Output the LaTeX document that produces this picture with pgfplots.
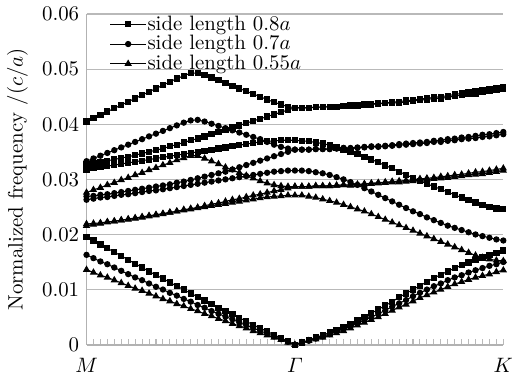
\documentclass[border=0pt]{standalone}
\usepackage{amsmath}
\usepackage{pgfplots}
\usepackage{pgfplotstable}
\pgfplotsset{compat=1.18}
% columns: k-point index (M=0, Gamma=30, K=60), bands A..D
\pgfplotstableread{
i A B C D
0 0.0196 0.0318 0.0328 0.0405
1 0.0189 0.0320 0.0330 0.0411
2 0.0182 0.0322 0.0332 0.0417
3 0.0175 0.0324 0.0334 0.0423
4 0.0168 0.0326 0.0336 0.0429
5 0.0161 0.0328 0.0339 0.0435
6 0.0154 0.0330 0.0341 0.0441
7 0.0147 0.0332 0.0344 0.0447
8 0.0140 0.0334 0.0347 0.0453
9 0.0133 0.0336 0.0350 0.0459
10 0.0126 0.0338 0.0353 0.0465
11 0.0120 0.0340 0.0356 0.0471
12 0.0113 0.0342 0.0360 0.0477
13 0.0106 0.0344 0.0363 0.0483
14 0.0100 0.0346 0.0367 0.0488
15 0.0093 0.0348 0.0371 0.0493
16 0.0087 0.0350 0.0374 0.0493
17 0.0080 0.0352 0.0378 0.0489
18 0.0074 0.0354 0.0382 0.0485
19 0.0067 0.0356 0.0386 0.0480
20 0.0061 0.0358 0.0390 0.0475
21 0.0055 0.0360 0.0394 0.0470
22 0.0049 0.0362 0.0398 0.0465
23 0.0042 0.0364 0.0402 0.0460
24 0.0036 0.0366 0.0406 0.0455
25 0.0030 0.0368 0.0410 0.0450
26 0.0024 0.0369 0.0414 0.0445
27 0.0018 0.0370 0.0418 0.0440
28 0.0012 0.0371 0.0422 0.0436
29 0.0006 0.0371 0.0426 0.0432
30 0.0000 0.0371 0.0430 0.0430
31 0.0004 0.0370 0.0430 0.0430
32 0.0008 0.0369 0.0430 0.0430
33 0.0013 0.0367 0.0431 0.0431
34 0.0017 0.0365 0.0431 0.0431
35 0.0022 0.0362 0.0432 0.0432
36 0.0027 0.0358 0.0432 0.0432
37 0.0032 0.0354 0.0433 0.0433
38 0.0038 0.0350 0.0433 0.0434
39 0.0044 0.0346 0.0434 0.0435
40 0.0050 0.0341 0.0435 0.0436
41 0.0057 0.0336 0.0436 0.0437
42 0.0064 0.0331 0.0437 0.0438
43 0.0071 0.0325 0.0438 0.0439
44 0.0078 0.0320 0.0439 0.0440
45 0.0086 0.0314 0.0439 0.0441
46 0.0093 0.0308 0.0441 0.0443
47 0.0100 0.0303 0.0442 0.0444
48 0.0107 0.0297 0.0444 0.0446
49 0.0114 0.0292 0.0445 0.0447
50 0.0121 0.0287 0.0447 0.0449
51 0.0127 0.0282 0.0447 0.0450
52 0.0133 0.0277 0.0449 0.0452
53 0.0139 0.0272 0.0451 0.0454
54 0.0144 0.0267 0.0453 0.0456
55 0.0149 0.0262 0.0455 0.0458
56 0.0154 0.0258 0.0456 0.0460
57 0.0158 0.0254 0.0458 0.0462
58 0.0163 0.0250 0.0460 0.0464
59 0.0167 0.0247 0.0462 0.0466
60 0.0171 0.0246 0.0464 0.0468
}\sq
\pgfplotstableread{
i A B C D
0 0.0163 0.0263 0.0269 0.0333
1 0.0157 0.0265 0.0270 0.0338
2 0.0151 0.0267 0.0272 0.0343
3 0.0146 0.0268 0.0273 0.0348
4 0.0140 0.0270 0.0275 0.0353
5 0.0134 0.0272 0.0277 0.0358
6 0.0128 0.0273 0.0279 0.0363
7 0.0122 0.0275 0.0281 0.0368
8 0.0117 0.0277 0.0283 0.0373
9 0.0111 0.0279 0.0285 0.0378
10 0.0105 0.0280 0.0287 0.0383
11 0.0100 0.0282 0.0289 0.0388
12 0.0094 0.0284 0.0291 0.0393
13 0.0089 0.0286 0.0294 0.0398
14 0.0083 0.0288 0.0296 0.0403
15 0.0078 0.0290 0.0299 0.0407
16 0.0072 0.0292 0.0302 0.0408
17 0.0067 0.0294 0.0305 0.0405
18 0.0061 0.0296 0.0308 0.0401
19 0.0056 0.0298 0.0311 0.0397
20 0.0051 0.0300 0.0314 0.0393
21 0.0046 0.0302 0.0318 0.0389
22 0.0040 0.0304 0.0322 0.0385
23 0.0035 0.0306 0.0326 0.0381
24 0.0030 0.0308 0.0330 0.0377
25 0.0025 0.0310 0.0334 0.0373
26 0.0020 0.0312 0.0338 0.0368
27 0.0015 0.0314 0.0342 0.0363
28 0.0010 0.0315 0.0346 0.0359
29 0.0005 0.0316 0.0350 0.0356
30 0.0000 0.0316 0.0354 0.0354
31 0.0004 0.0316 0.0354 0.0354
32 0.0007 0.0315 0.0354 0.0354
33 0.0011 0.0313 0.0355 0.0355
34 0.0015 0.0311 0.0355 0.0355
35 0.0019 0.0308 0.0355 0.0355
36 0.0024 0.0304 0.0356 0.0356
37 0.0028 0.0300 0.0357 0.0357
38 0.0033 0.0295 0.0356 0.0357
39 0.0039 0.0290 0.0357 0.0358
40 0.0044 0.0284 0.0358 0.0359
41 0.0050 0.0278 0.0359 0.0360
42 0.0056 0.0272 0.0359 0.0360
43 0.0062 0.0266 0.0360 0.0361
44 0.0069 0.0260 0.0361 0.0362
45 0.0075 0.0254 0.0362 0.0364
46 0.0081 0.0248 0.0363 0.0365
47 0.0088 0.0242 0.0364 0.0366
48 0.0094 0.0237 0.0365 0.0367
49 0.0100 0.0231 0.0366 0.0368
50 0.0106 0.0226 0.0368 0.0370
51 0.0111 0.0221 0.0368 0.0371
52 0.0117 0.0216 0.0370 0.0373
53 0.0122 0.0212 0.0371 0.0374
54 0.0126 0.0208 0.0373 0.0376
55 0.0131 0.0204 0.0374 0.0377
56 0.0135 0.0200 0.0375 0.0379
57 0.0139 0.0197 0.0377 0.0381
58 0.0143 0.0194 0.0378 0.0382
59 0.0146 0.0191 0.0380 0.0384
60 0.0150 0.0189 0.0382 0.0386
}\ci
\pgfplotstableread{
i A B C D
0 0.0136 0.0216 0.0219 0.0276
1 0.0131 0.0218 0.0220 0.0281
2 0.0126 0.0220 0.0221 0.0285
3 0.0122 0.0222 0.0223 0.0290
4 0.0117 0.0224 0.0224 0.0294
5 0.0112 0.0226 0.0226 0.0299
6 0.0107 0.0228 0.0227 0.0303
7 0.0102 0.0230 0.0229 0.0308
8 0.0098 0.0232 0.0231 0.0312
9 0.0093 0.0234 0.0233 0.0317
10 0.0088 0.0236 0.0235 0.0321
11 0.0083 0.0238 0.0237 0.0326
12 0.0079 0.0240 0.0240 0.0330
13 0.0074 0.0242 0.0242 0.0335
14 0.0070 0.0244 0.0245 0.0339
15 0.0065 0.0246 0.0247 0.0343
16 0.0061 0.0248 0.0249 0.0343
17 0.0056 0.0250 0.0252 0.0338
18 0.0052 0.0252 0.0255 0.0333
19 0.0047 0.0254 0.0257 0.0328
20 0.0043 0.0256 0.0260 0.0322
21 0.0038 0.0258 0.0263 0.0317
22 0.0034 0.0260 0.0265 0.0312
23 0.0030 0.0262 0.0268 0.0307
24 0.0025 0.0264 0.0271 0.0302
25 0.0021 0.0266 0.0273 0.0297
26 0.0017 0.0268 0.0276 0.0293
27 0.0013 0.0269 0.0279 0.0290
28 0.0009 0.0270 0.0281 0.0288
29 0.0004 0.0271 0.0284 0.0287
30 0.0000 0.0271 0.0287 0.0287
31 0.0003 0.0271 0.0287 0.0287
32 0.0007 0.0269 0.0287 0.0287
33 0.0010 0.0267 0.0288 0.0288
34 0.0013 0.0264 0.0288 0.0288
35 0.0017 0.0261 0.0288 0.0288
36 0.0021 0.0258 0.0289 0.0289
37 0.0025 0.0254 0.0290 0.0290
38 0.0030 0.0250 0.0289 0.0290
39 0.0035 0.0246 0.0290 0.0291
40 0.0040 0.0242 0.0291 0.0292
41 0.0045 0.0237 0.0292 0.0293
42 0.0050 0.0232 0.0293 0.0294
43 0.0056 0.0227 0.0294 0.0295
44 0.0062 0.0222 0.0295 0.0296
45 0.0068 0.0217 0.0295 0.0297
46 0.0073 0.0212 0.0296 0.0298
47 0.0079 0.0207 0.0297 0.0299
48 0.0085 0.0202 0.0299 0.0301
49 0.0090 0.0197 0.0300 0.0302
50 0.0095 0.0192 0.0301 0.0303
51 0.0100 0.0187 0.0302 0.0305
52 0.0105 0.0182 0.0303 0.0306
53 0.0110 0.0177 0.0305 0.0308
54 0.0114 0.0172 0.0306 0.0309
55 0.0118 0.0167 0.0308 0.0311
56 0.0122 0.0162 0.0309 0.0313
57 0.0125 0.0158 0.0310 0.0314
58 0.0128 0.0155 0.0312 0.0316
59 0.0132 0.0153 0.0314 0.0318
60 0.0135 0.0152 0.0316 0.0320
}\tr
\begin{document}
\begin{tikzpicture}
\begin{axis}[
  scale only axis, width=200pt, height=158.6pt,
  xmin=0, xmax=60, ymin=0, ymax=0.06,
  scaled y ticks=false,
  axis lines*=left,
  axis line style={gray!60, line width=0.9pt},
  xtick={0,30,60}, xticklabels={$M$,$\varGamma$,$K$},
  xticklabel style={yshift=-3pt},
  minor x tick num=29,
  ytick={0,0.01,0.02,0.03,0.04,0.05,0.06},
  yticklabels={0,0.01,0.02,0.03,0.04,0.05,0.06},
  ymajorgrids, major grid style={gray!55, line width=0.6pt},
  tick align=inside, major tick length=2.5pt, minor tick length=2.5pt,
  tick style={gray!55, line width=0.5pt},
  ytick style={draw=none},
  ylabel={Normalized frequency /$(c/a)$},
  clip=false,
  legend style={at={(0.055,1.0)}, anchor=north west, draw=none, fill=none,
    inner sep=0pt, row sep=0pt, nodes={inner sep=0.5pt}},
  legend cell align=left,
  every axis plot/.append style={black, line width=0.5pt},
]
\addplot[mark=square*, mark size=1.25pt] table[x=i,y=A]{\sq};
\addlegendentry{side length 0.8$a$}
\addplot[mark=*, mark size=1.25pt] table[x=i,y=A]{\ci};
\addlegendentry{side length 0.7$a$}
\addplot[mark=triangle*, mark size=1.55pt] table[x=i,y=A]{\tr};
\addlegendentry{side length 0.55$a$}
\addplot[forget plot, mark=square*, mark size=1.25pt] table[x=i,y=B]{\sq};
\addplot[forget plot, mark=square*, mark size=1.25pt] table[x=i,y=C]{\sq};
\addplot[forget plot, mark=square*, mark size=1.25pt] table[x=i,y=D]{\sq};
\addplot[forget plot, mark=*, mark size=1.25pt] table[x=i,y=B]{\ci};
\addplot[forget plot, mark=*, mark size=1.25pt] table[x=i,y=C]{\ci};
\addplot[forget plot, mark=*, mark size=1.25pt] table[x=i,y=D]{\ci};
\addplot[forget plot, mark=triangle*, mark size=1.55pt] table[x=i,y=B]{\tr};
\addplot[forget plot, mark=triangle*, mark size=1.55pt] table[x=i,y=C]{\tr};
\addplot[forget plot, mark=triangle*, mark size=1.55pt] table[x=i,y=D]{\tr};
\end{axis}
\path (current axis.east) -- ++(8pt,0);
\end{tikzpicture}
\end{document}
